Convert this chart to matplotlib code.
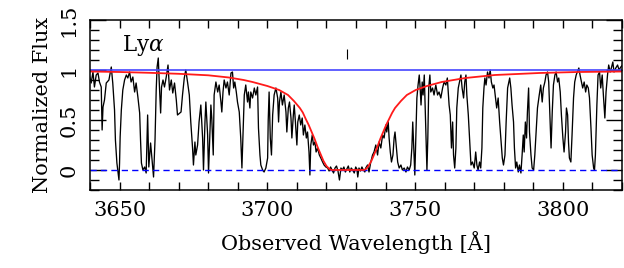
import matplotlib
matplotlib.use('Agg')
import matplotlib.pyplot as plt
import numpy as np
from matplotlib.ticker import MultipleLocator

plt.rcParams['font.family'] = ['DejaVu Serif']
plt.rcParams['mathtext.fontset'] = 'dejavuserif'

# observed spectrum (wavelength [A], normalized flux)
spectrum = [
    (3639.9, 0.93), (3640.4, 0.87), (3641.0, 0.98), (3641.5, 0.83), (3642.1, 0.95),
    (3642.7, 0.97), (3643.2, 0.88), (3643.8, 0.83), (3644.1, 0.40), (3644.4, 0.63),
    (3644.9, 0.70), (3645.5, 0.87), (3646.4, 0.90), (3647.2, 1.03), (3647.7, 0.87),
    (3648.3, 0.60), (3648.6, 0.30), (3649.1, 0.07), (3649.4, 0.00), (3649.8, -0.10),
    (3650.0, 0.07), (3650.2, 0.33), (3650.6, 0.60), (3651.1, 0.80), (3651.7, 0.90),
    (3652.3, 0.95), (3652.8, 0.92), (3653.4, 0.98), (3653.9, 0.88), (3654.5, 0.93),
    (3655.1, 0.78), (3655.6, 0.87), (3656.2, 0.73), (3656.8, 0.57), (3657.1, 0.30),
    (3657.4, 0.07), (3657.9, 0.00), (3658.5, 0.03), (3659.0, -0.03), (3659.5, 0.55),
    (3659.9, 0.03), (3660.5, 0.27), (3661.1, 0.07), (3661.5, -0.07), (3662.0, 0.30),
    (3662.4, 0.80), (3662.7, 1.03), (3663.1, 1.12), (3663.5, 0.83), (3663.9, 0.57),
    (3664.2, 0.83), (3664.7, 0.90), (3665.2, 0.83), (3665.8, 0.93), (3666.4, 1.05),
    (3666.9, 0.80), (3667.5, 0.90), (3668.0, 0.77), (3668.6, 0.87), (3669.2, 0.70),
    (3669.6, 0.55), (3670.8, 0.58), (3671.3, 0.75), (3671.9, 0.92), (3672.4, 1.00),
    (3673.0, 0.88), (3673.6, 0.75), (3674.1, 0.48), (3674.7, 0.22), (3675.0, 0.05),
    (3675.5, 0.28), (3675.8, 0.15), (3676.4, 0.25), (3676.9, 0.48), (3677.5, 0.65),
    (3678.1, 0.32), (3678.4, 0.00), (3678.9, 0.48), (3679.2, 0.68), (3679.8, 0.35),
    (3680.1, -0.03), (3680.6, 0.38), (3680.9, 0.65), (3681.2, 0.52), (3681.7, 0.15),
    (3682.0, 0.75), (3682.6, 0.88), (3683.2, 0.78), (3683.7, 0.85), (3684.3, 0.68),
    (3684.6, 0.58), (3685.0, 0.78), (3685.4, 0.90), (3686.0, 0.82), (3686.5, 0.88),
    (3687.1, 0.75), (3687.7, 0.97), (3688.2, 0.98), (3688.6, 0.82), (3689.0, 0.88),
    (3689.5, 0.78), (3689.9, 0.68), (3690.5, 0.58), (3691.0, 0.32), (3691.4, 0.02),
    (3691.8, 0.38), (3692.2, 0.75), (3692.7, 0.85), (3693.3, 0.68), (3693.6, 0.78),
    (3694.1, 0.62), (3694.4, 0.78), (3695.0, 0.72), (3695.6, 0.82), (3696.1, 0.75),
    (3696.7, 0.83), (3697.0, 0.42), (3697.5, 0.15), (3697.8, 0.05), (3698.4, 0.00),
    (3698.9, -0.02), (3699.5, 0.02), (3700.1, 0.12), (3700.3, 0.50), (3700.6, 0.78),
    (3701.0, 0.32), (3701.4, 0.15), (3701.8, 0.55), (3702.3, 0.75), (3702.9, 0.82),
    (3703.5, 0.72), (3703.8, 0.48), (3704.1, 0.68), (3704.6, 0.78), (3705.1, 0.65),
    (3705.7, 0.75), (3706.3, 0.58), (3706.6, 0.38), (3707.1, 0.62), (3707.5, 0.68),
    (3708.0, 0.52), (3708.3, 0.32), (3708.8, 0.55), (3709.1, 0.65), (3709.5, 0.48),
    (3710.0, 0.25), (3710.3, 0.48), (3710.8, 0.55), (3711.3, 0.45), (3711.8, 0.52),
    (3712.2, 0.35), (3712.7, 0.45), (3713.2, 0.32), (3713.6, 0.38), (3714.1, 0.18),
    (3714.4, -0.05), (3714.7, 0.25), (3715.2, 0.35), (3715.6, 0.25), (3716.1, 0.28),
    (3716.5, 0.18), (3717.0, 0.22), (3717.6, 0.15), (3718.1, 0.12), (3718.7, 0.08),
    (3719.2, 0.05), (3719.8, 0.03), (3720.4, 0.02), (3720.9, -0.01), (3721.4, 0.03),
    (3721.9, 0.00), (3722.4, -0.03), (3722.9, 0.02), (3723.4, 0.04), (3723.9, -0.01),
    (3724.4, -0.10), (3724.9, 0.02), (3725.4, 0.00), (3725.9, 0.03), (3726.4, -0.02),
    (3726.9, 0.01), (3727.4, 0.04), (3727.9, -0.02), (3728.4, 0.02), (3728.9, 0.00),
    (3729.4, -0.03), (3729.9, 0.03), (3730.3, 0.01), (3730.6, -0.07), (3731.0, 0.02),
    (3731.5, -0.01), (3732.0, 0.03), (3732.5, 0.00), (3733.0, -0.02), (3733.3, 0.02),
    (3733.9, 0.05), (3734.4, -0.02), (3735.0, 0.08), (3735.6, 0.15), (3736.1, 0.18),
    (3736.7, 0.25), (3737.3, 0.15), (3737.8, 0.28), (3738.4, 0.22), (3739.0, 0.35),
    (3739.5, 0.32), (3740.1, 0.45), (3740.4, 0.38), (3740.9, 0.48), (3741.2, 0.32),
    (3741.6, 0.18), (3742.0, 0.08), (3742.5, 0.15), (3742.9, 0.32), (3743.2, 0.38),
    (3743.7, 0.22), (3744.1, 0.08), (3744.6, 0.02), (3745.2, 0.05), (3745.7, 0.00),
    (3746.3, 0.02), (3746.9, -0.02), (3747.4, 0.03), (3748.0, 0.00), (3748.5, 0.05),
    (3748.9, 0.22), (3749.2, 0.48), (3749.6, 0.18), (3749.9, -0.05), (3750.2, 0.28),
    (3750.6, 0.72), (3751.0, 0.85), (3751.4, 0.95), (3751.7, 0.82), (3752.0, 0.65),
    (3752.4, 0.88), (3752.7, 0.75), (3753.1, 0.95), (3753.4, 0.62), (3753.7, 0.28),
    (3754.0, 0.00), (3754.3, 0.32), (3754.6, 0.82), (3755.0, 0.95), (3755.3, 0.78),
    (3755.9, 0.82), (3756.4, 0.75), (3757.0, 0.85), (3757.6, 0.75), (3758.1, 0.78),
    (3758.7, 0.72), (3759.3, 0.82), (3759.8, 0.88), (3760.4, 0.85), (3760.9, 0.92),
    (3761.5, 0.65), (3761.9, 0.55), (3762.3, 0.22), (3762.7, 0.48), (3763.0, 0.15),
    (3763.4, 0.02), (3763.8, 0.22), (3764.1, 0.62), (3764.6, 0.82), (3765.0, 0.88),
    (3765.5, 0.95), (3765.9, 0.82), (3766.4, 0.72), (3766.8, 0.88), (3767.2, 0.95),
    (3767.5, 0.75), (3768.0, 0.55), (3768.4, 0.32), (3768.9, 0.05), (3769.4, 0.08),
    (3770.0, 0.02), (3770.5, 0.18), (3770.9, 0.05), (3771.3, 0.00), (3771.8, 0.08),
    (3772.2, 0.02), (3772.6, 0.22), (3772.9, 0.62), (3773.3, 0.82), (3773.6, 0.92),
    (3774.0, 0.85), (3774.5, 0.98), (3775.0, 0.92), (3775.4, 1.00), (3775.8, 0.88),
    (3776.3, 0.82), (3776.7, 0.85), (3777.2, 0.72), (3777.6, 0.62), (3778.1, 0.72),
    (3778.6, 0.48), (3779.0, 0.32), (3779.5, 0.12), (3779.9, 0.05), (3780.4, 0.15),
    (3780.8, 0.48), (3781.3, 0.82), (3781.7, 0.88), (3782.0, 0.92), (3782.4, 0.82),
    (3782.8, 0.65), (3783.3, 0.48), (3783.6, 0.22), (3784.0, 0.02), (3784.4, 0.08),
    (3784.9, -0.02), (3785.3, 0.05), (3785.8, -0.03), (3786.2, 0.15), (3786.6, 0.35),
    (3786.9, 0.18), (3787.3, 0.48), (3787.7, 0.32), (3788.0, 0.58), (3788.4, 0.82),
    (3788.7, 0.38), (3789.2, 0.15), (3789.6, 0.02), (3790.1, 0.00), (3790.5, 0.15),
    (3791.0, 0.42), (3791.4, 0.62), (3792.0, 0.75), (3792.5, 0.85), (3793.0, 0.68),
    (3793.4, 0.82), (3793.9, 0.88), (3794.3, 0.95), (3794.8, 0.98), (3795.2, 0.88),
    (3795.7, 0.48), (3796.0, 0.22), (3796.4, 0.58), (3796.8, 0.85), (3797.3, 0.95),
    (3797.7, 0.98), (3798.2, 0.88), (3798.6, 0.92), (3799.1, 0.78), (3799.5, 0.55),
    (3800.0, 0.32), (3800.4, 0.18), (3800.9, 0.38), (3801.2, 0.62), (3801.6, 0.55),
    (3801.9, 0.28), (3802.2, 0.12), (3802.7, 0.08), (3803.1, 0.35), (3803.6, 0.72),
    (3804.0, 0.88), (3804.5, 0.95), (3804.9, 0.98), (3805.4, 1.02), (3805.8, 0.95),
    (3806.3, 0.88), (3806.7, 0.82), (3807.2, 0.88), (3807.7, 0.78), (3808.1, 0.85),
    (3808.6, 0.82), (3809.0, 0.72), (3809.5, 0.42), (3809.9, 0.15), (3810.4, 0.02),
    (3810.7, 0.00), (3811.0, 0.15), (3811.5, 0.65), (3811.9, 0.95), (3812.4, 0.98),
    (3812.8, 0.82), (3813.3, 0.95), (3813.7, 0.75), (3814.2, 0.52), (3814.6, 0.78),
    (3815.1, 0.95), (3815.5, 1.05), (3816.0, 0.98), (3816.4, 1.02), (3816.9, 1.08),
    (3817.3, 0.98), (3817.9, 1.02), (3818.5, 1.05), (3819.0, 1.00), (3819.6, 1.03),
    (3820.2, 1.05),
]

# fitted damped Lya profile (red)
model = [
    (3640, 0.985), (3650, 0.98), (3660, 0.972), (3670, 0.962), (3680, 0.947),
    (3687, 0.925), (3692, 0.90), (3695, 0.88), (3700, 0.84), (3704, 0.80),
    (3707, 0.75), (3709, 0.69), (3711, 0.62), (3712, 0.575), (3713, 0.51),
    (3714, 0.45), (3715, 0.38), (3716, 0.31), (3717, 0.23), (3718, 0.16),
    (3719, 0.09), (3720, 0.04), (3721, 0.01), (3721.7, 0.0), (3732.7, 0.0),
    (3733.4, 0.01), (3734.2, 0.04), (3735.2, 0.09), (3736.2, 0.16), (3737.2, 0.23),
    (3738.2, 0.31), (3739.2, 0.38), (3740.2, 0.45), (3741.2, 0.51), (3742.2, 0.57),
    (3743.2, 0.62), (3745.2, 0.69), (3747.2, 0.75), (3750.2, 0.80), (3754, 0.84),
    (3759, 0.88), (3767, 0.92), (3777, 0.95), (3792, 0.97), (3805, 0.98),
    (3820, 0.985),
]

continuum = 1.0
zero = 0.0
line_center = 3727.1
line_name = r'Ly$\alpha$'

wave, flux = np.array(spectrum).T
mwave, mflux = np.array(model).T

fig = plt.figure(figsize=(6.24, 2.68), dpi=100)
ax = fig.add_axes([90 / 624, 78 / 268, 532 / 624, 170 / 268])

ax.plot(wave, flux, color='black', lw=0.95)
ax.axhline(continuum, color='#4646ff', lw=1.2)
ax.axhline(zero, color='#0000ff', lw=1.0, ls=(0, (4.5, 3)))
ax.plot(mwave, mflux, color='#ff1a1a', lw=1.3)
ax.vlines(line_center, 1.11, 1.21, color='black', lw=0.8)
ax.text(3650.7, 1.25, line_name, fontsize=15.5, va='center', ha='left')

ax.set_xlim(3640, 3820)
ax.set_ylim(-0.2, 1.5)

ax.xaxis.set_major_locator(MultipleLocator(50))
ax.xaxis.set_minor_locator(MultipleLocator(10))
ax.yaxis.set_major_locator(MultipleLocator(0.5))
ax.yaxis.set_minor_locator(MultipleLocator(0.1))
ax.yaxis.set_major_formatter(plt.FuncFormatter(lambda v, p: f'{v:g}'))

ax.tick_params(which='both', direction='in', top=True, right=True, width=1.0)
ax.tick_params(axis='x', which='both', length=5.8, pad=8, labelsize=15)
ax.tick_params(axis='y', which='major', length=11.5, pad=8, labelsize=15, labelrotation=90)
ax.tick_params(axis='y', which='minor', length=6.5)
for lab in ax.get_yticklabels():
    lab.set_va('center')
for s in ax.spines.values():
    s.set_linewidth(1.1)

ax.set_xlabel('Observed Wavelength [Å]', fontsize=15, labelpad=8)
ax.set_ylabel('Normalized Flux', fontsize=15, labelpad=6)

fig.savefig('out.png', dpi=100)
